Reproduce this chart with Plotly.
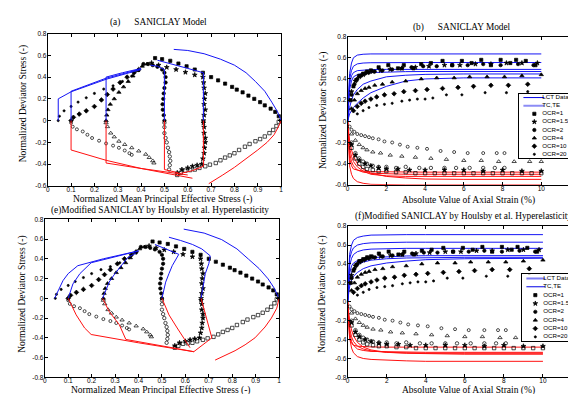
import plotly.graph_objects as go

W, H = 576, 394

# ---------------- Stress-path data (panels a and e): (p'/p0, q/p0) ----------------
PQ_TC_OCR1 = [(1.0, 0.0), (0.99, 0.04), (0.975, 0.08), (0.955, 0.11), (0.93, 0.14), (0.91, 0.17), (0.885, 0.2),
              (0.86, 0.23), (0.835, 0.26), (0.81, 0.285), (0.79, 0.31), (0.76, 0.34), (0.73, 0.37), (0.7, 0.4),
              (0.665, 0.44), (0.63, 0.47), (0.595, 0.5), (0.56, 0.525), (0.525, 0.55), (0.49, 0.565), (0.46, 0.575)]
PQ_TC_OCR15 = [(0.667, 0.0), (0.67, 0.05), (0.675, 0.1), (0.67, 0.15), (0.672, 0.2), (0.675, 0.25), (0.67, 0.3),
               (0.668, 0.35), (0.665, 0.4), (0.63, 0.42), (0.59, 0.445), (0.55, 0.47), (0.51, 0.49), (0.475, 0.51),
               (0.445, 0.53)]
PQ_TC_OCR2 = [(0.5, 0.0), (0.497, 0.05), (0.493, 0.1), (0.492, 0.15), (0.495, 0.2), (0.497, 0.25), (0.5, 0.3),
              (0.505, 0.35), (0.505, 0.4), (0.5, 0.44), (0.49, 0.47), (0.47, 0.495), (0.45, 0.51), (0.43, 0.52),
              (0.41, 0.52)]
PQ_TC_OCR4 = [(0.25, 0.0), (0.253, 0.05), (0.258, 0.1), (0.268, 0.15), (0.285, 0.2), (0.305, 0.26), (0.325, 0.31),
              (0.345, 0.36), (0.365, 0.41), (0.385, 0.46), (0.405, 0.5), (0.425, 0.52)]
PQ_TC_OCR10 = [(0.1, 0.0), (0.11, 0.03), (0.135, 0.06), (0.165, 0.09), (0.2, 0.13), (0.23, 0.19), (0.255, 0.24),
               (0.28, 0.29), (0.31, 0.35), (0.34, 0.4), (0.37, 0.44), (0.39, 0.47)]
PQ_TC_OCR20 = [(0.045, 0.0), (0.05, 0.04), (0.07, 0.09), (0.1, 0.13), (0.13, 0.17), (0.165, 0.21), (0.2, 0.25),
               (0.24, 0.29), (0.28, 0.32), (0.32, 0.36), (0.36, 0.41), (0.39, 0.46)]

PQ_TE_OCR1 = [(0.99, -0.01), (0.98, -0.05), (0.966, -0.086), (0.95, -0.115), (0.93, -0.146), (0.91, -0.17),
              (0.89, -0.19), (0.865, -0.215), (0.845, -0.24), (0.82, -0.27), (0.8, -0.3), (0.78, -0.32),
              (0.76, -0.34), (0.74, -0.365), (0.72, -0.39), (0.695, -0.405), (0.675, -0.42), (0.65, -0.435),
              (0.63, -0.45), (0.61, -0.455), (0.59, -0.46), (0.57, -0.48), (0.555, -0.5)]
PQ_TE_OCR15 = [(0.667, -0.02), (0.67, -0.06), (0.67, -0.115), (0.675, -0.16), (0.675, -0.2), (0.672, -0.25),
               (0.67, -0.3), (0.665, -0.35), (0.66, -0.4), (0.64, -0.41), (0.62, -0.42), (0.6, -0.435),
               (0.575, -0.45), (0.555, -0.48)]
PQ_TE_OCR2 = [(0.5, -0.02), (0.5, -0.06), (0.5, -0.115), (0.505, -0.16), (0.51, -0.2), (0.515, -0.25),
              (0.52, -0.29), (0.523, -0.33), (0.525, -0.37), (0.523, -0.41), (0.52, -0.45)]
PQ_TE_OCR4 = [(0.25, -0.02), (0.256, -0.056), (0.27, -0.115), (0.285, -0.15), (0.305, -0.19), (0.33, -0.22),
              (0.36, -0.25), (0.39, -0.28), (0.42, -0.31), (0.435, -0.34), (0.45, -0.37), (0.455, -0.39)]
PQ_TE_OCR10 = [(0.1, -0.02), (0.107, -0.056), (0.125, -0.08), (0.15, -0.1), (0.17, -0.13), (0.19, -0.16),
               (0.22, -0.185), (0.25, -0.21), (0.28, -0.23), (0.305, -0.25), (0.33, -0.275), (0.35, -0.3),
               (0.36, -0.315)]

# ---------------- Model stress paths ----------------
A_TC_MODEL = [
    [(0.045, 0.0), (0.045, 0.2), (0.1, 0.265), (0.25, 0.38), (0.4, 0.47)],
    [(0.1, 0.0), (0.1, 0.27), (0.25, 0.39), (0.4, 0.475)],
    [(0.25, 0.0), (0.25, 0.4), (0.32, 0.44), (0.4, 0.48)],
    [(0.5, 0.0), (0.5, 0.47), (0.47, 0.5), (0.44, 0.51)],
    [(0.667, 0.0), (0.667, 0.44), (0.6, 0.48), (0.53, 0.52), (0.47, 0.555)],
    [(0.54, 0.655), (0.6, 0.645), (0.67, 0.615), (0.74, 0.565), (0.8, 0.51), (0.85, 0.44), (0.89, 0.36),
     (0.93, 0.27), (0.96, 0.17), (0.985, 0.08), (1.0, 0.0)],
]
A_TE_MODEL = [
    [(0.1, 0.0), (0.1, -0.27), (0.25, -0.365), (0.4, -0.44), (0.62, -0.53)],
    [(0.25, 0.0), (0.25, -0.39), (0.4, -0.44), (0.6, -0.5)],
    [(0.5, 0.0), (0.5, -0.45), (0.56, -0.48)],
    [(0.667, 0.0), (0.667, -0.42), (0.62, -0.46), (0.56, -0.49)],
    [(1.0, 0.0), (0.99, -0.05), (0.97, -0.13), (0.94, -0.2), (0.9, -0.27), (0.85, -0.35), (0.8, -0.43),
     (0.75, -0.5), (0.69, -0.58)],
]
E_TC_MODEL = [
    [(0.042, 0.0), (0.06, 0.09), (0.078, 0.18), (0.1, 0.25), (0.141, 0.33), (0.25, 0.4), (0.4, 0.48)],
    [(0.1, 0.0), (0.11, 0.07), (0.12, 0.145), (0.15, 0.25), (0.198, 0.36), (0.3, 0.42), (0.4, 0.48)],
    [(0.247, 0.0), (0.26, 0.08), (0.275, 0.165), (0.295, 0.235), (0.318, 0.3), (0.353, 0.41), (0.39, 0.46)],
    [(0.5, 0.0), (0.507, 0.08), (0.516, 0.164), (0.53, 0.25), (0.544, 0.33), (0.572, 0.445), (0.52, 0.5),
     (0.47, 0.545)],
    [(0.667, 0.0), (0.675, 0.1), (0.685, 0.25), (0.7, 0.35), (0.706, 0.43), (0.67, 0.5), (0.63, 0.545),
     (0.58, 0.585), (0.53, 0.618)],
    [(0.593, 0.7), (0.68, 0.66), (0.755, 0.594), (0.82, 0.5), (0.87, 0.395), (0.915, 0.3), (0.953, 0.197),
     (0.98, 0.1), (0.996, 0.015)],
]
E_TE_MODEL = [
    [(0.1, 0.0), (0.134, -0.167), (0.17, -0.3), (0.198, -0.366), (0.4, -0.45), (0.636, -0.54)],
    [(0.247, 0.0), (0.275, -0.134), (0.318, -0.267), (0.346, -0.416), (0.544, -0.5), (0.636, -0.54)],
    [(0.5, 0.0), (0.53, -0.167), (0.565, -0.3), (0.6, -0.42), (0.62, -0.5)],
    [(0.667, 0.0), (0.69, -0.2), (0.713, -0.4), (0.636, -0.54)],
    [(1.0, 0.0), (0.99, -0.1), (0.967, -0.2), (0.94, -0.29), (0.897, -0.4), (0.855, -0.47), (0.812, -0.53),
     (0.77, -0.58), (0.727, -0.625)],
]

# ---------------- Strain data (panels b and f) ----------------
S_TC_OCR1 = [0.15, 0.3, 0.45, 0.6, 0.8, 1.0, 1.2, 1.6, 2.1, 2.6, 2.9, 3.4, 3.8, 4.3, 4.9, 5.4, 5.9, 6.4, 6.9, 7.4, 7.9, 8.4, 8.7, 9.2, 9.7]
Q_TC_OCR1 = [0.2, 0.33, 0.39, 0.43, 0.45, 0.47, 0.48, 0.51, 0.53, 0.5, 0.53, 0.5, 0.54, 0.55, 0.57, 0.53, 0.57, 0.55, 0.58, 0.53, 0.58, 0.55, 0.58, 0.57, 0.53]
S_TC_OCR15 = [0.2, 0.4, 0.6, 0.8, 1.0, 1.3, 1.7, 2.2, 2.8, 3.5, 4.2, 5.0, 5.8, 6.6, 7.4, 8.2, 9.0, 9.8]
Q_TC_OCR15 = [0.28, 0.38, 0.42, 0.44, 0.46, 0.47, 0.48, 0.49, 0.5, 0.51, 0.52, 0.53, 0.53, 0.54, 0.54, 0.55, 0.55, 0.55]
S_TC_OCR2 = [0.2, 0.35, 0.5, 0.7, 0.9, 1.1, 1.4, 1.8, 2.3, 2.8, 3.3, 3.9, 4.6, 5.4, 6.2, 7.0, 7.9, 8.8, 9.6]
Q_TC_OCR2 = [0.25, 0.35, 0.4, 0.43, 0.45, 0.46, 0.47, 0.48, 0.49, 0.5, 0.51, 0.52, 0.52, 0.53, 0.53, 0.54, 0.53, 0.54, 0.53]
S_TC_OCR4 = [0.2, 0.35, 0.5, 0.7, 0.9, 1.1, 1.4, 1.8, 2.3, 3.0, 3.8, 4.6, 5.5, 6.3, 7.2, 8.1, 9.0, 10.0]
Q_TC_OCR4 = [0.12, 0.2, 0.26, 0.29, 0.31, 0.32, 0.34, 0.35, 0.37, 0.38, 0.4, 0.41, 0.41, 0.42, 0.42, 0.42, 0.43, 0.44]
S_TC_OCR10 = [0.3, 0.5, 0.7, 0.9, 1.2, 1.5, 1.9, 2.4, 2.9, 3.5, 4.1, 4.9, 5.7, 6.5, 7.4, 8.3, 9.3]
Q_TC_OCR10 = [0.1, 0.14, 0.17, 0.19, 0.21, 0.23, 0.25, 0.26, 0.28, 0.29, 0.3, 0.31, 0.32, 0.33, 0.34, 0.34, 0.35]
S_TC_OCR20 = [0.5, 0.8, 1.1, 1.5, 1.9, 2.3, 2.8, 3.2, 3.6, 4.0, 4.4, 5.1, 5.9, 7.1, 8.2, 9.3]
Q_TC_OCR20 = [0.07, 0.1, 0.13, 0.15, 0.16, 0.17, 0.19, 0.2, 0.21, 0.21, 0.22, 0.25, 0.25, 0.27, 0.27, 0.28]

S_TE_OCR1 = [0.2, 0.4, 0.6, 0.8, 1.0, 1.3, 1.6, 2.0, 2.5, 3.0, 3.5, 4.0, 4.5, 5.0, 5.5, 6.0, 6.5, 7.0, 7.5, 8.0, 8.5, 9.0, 9.5, 10.0]
Q_TE_OCR1 = [-0.25, -0.35, -0.4, -0.43, -0.45, -0.46, -0.47, -0.47, -0.48, -0.48, -0.49, -0.49, -0.49, -0.49, -0.49, -0.49, -0.49, -0.49, -0.49, -0.49, -0.49, -0.49, -0.49, -0.49]
S_TE_OCR15 = [0.2, 0.4, 0.6, 0.9, 1.2, 1.6, 2.0, 2.6, 3.2, 4.0, 5.0, 6.0, 7.0, 8.0, 9.0, 10.0]
Q_TE_OCR15 = [-0.22, -0.32, -0.37, -0.4, -0.42, -0.44, -0.45, -0.45, -0.46, -0.46, -0.46, -0.46, -0.47, -0.46, -0.47, -0.47]
S_TE_OCR2 = [0.2, 0.4, 0.6, 0.8, 1.0, 1.3, 1.6, 2.0, 2.5, 3.0, 3.7, 4.3, 5.0, 5.6, 6.3, 7.0, 7.6, 8.1]
Q_TE_OCR2 = [-0.2, -0.3, -0.35, -0.38, -0.4, -0.42, -0.43, -0.43, -0.44, -0.43, -0.44, -0.44, -0.44, -0.44, -0.44, -0.44, -0.44, -0.44]
S_TE_OCR4 = [0.2, 0.4, 0.6, 0.8, 1.0, 1.3, 1.7, 2.2, 2.8, 3.5, 4.3, 5.1, 6.0, 6.9, 7.8, 8.6, 9.4, 10.0]
Q_TE_OCR4 = [-0.12, -0.18, -0.22, -0.25, -0.27, -0.29, -0.3, -0.32, -0.33, -0.34, -0.35, -0.36, -0.37, -0.37, -0.38, -0.38, -0.38, -0.38]
S_TE_OCR10 = [0.1, 0.2, 0.35, 0.5, 0.7, 0.9, 1.1, 1.3, 1.6, 1.9, 2.3, 2.7, 3.1, 3.6, 4.1, 4.8, 5.5, 6.2, 7.0, 7.7, 8.1]
Q_TE_OCR10 = [-0.05, -0.08, -0.1, -0.12, -0.13, -0.14, -0.15, -0.16, -0.17, -0.19, -0.2, -0.22, -0.24, -0.25, -0.26, -0.28, -0.29, -0.3, -0.3, -0.3, -0.3]

# ---------------- Model stress-strain curves ----------------
S_MODEL = [0, 0.05, 0.1, 0.2, 0.3, 0.5, 0.8, 1.2, 2, 3, 4, 6, 10]
B_TC_MODEL = [
    [0, 0.3, 0.45, 0.55, 0.6, 0.625, 0.633, 0.636, 0.636, 0.636, 0.636, 0.636, 0.636],
    [0, 0.28, 0.4, 0.48, 0.52, 0.542, 0.55, 0.553, 0.555, 0.555, 0.555, 0.555, 0.555],
    [0, 0.25, 0.35, 0.43, 0.46, 0.478, 0.485, 0.488, 0.49, 0.49, 0.49, 0.49, 0.49],
    [0, 0.2, 0.3, 0.38, 0.42, 0.44, 0.452, 0.46, 0.466, 0.469, 0.47, 0.47, 0.47],
    [0, 0.08, 0.13, 0.2, 0.25, 0.3, 0.35, 0.38, 0.42, 0.435, 0.443, 0.447, 0.447],
    [0, 0.04, 0.07, 0.1, 0.13, 0.17, 0.22, 0.27, 0.33, 0.38, 0.4, 0.41, 0.41],
]
B_TE_MODEL = [
    [0, -0.25, -0.35, -0.42, -0.45, -0.46, -0.47, -0.475, -0.478, -0.48, -0.48, -0.48, -0.48],
    [0, -0.2, -0.3, -0.38, -0.42, -0.46, -0.48, -0.49, -0.495, -0.5, -0.5, -0.5, -0.5],
    [0, -0.15, -0.25, -0.33, -0.38, -0.43, -0.47, -0.5, -0.515, -0.52, -0.52, -0.52, -0.52],
    [0, -0.1, -0.18, -0.27, -0.33, -0.4, -0.45, -0.49, -0.52, -0.535, -0.545, -0.548, -0.548],
    [0, -0.3, -0.42, -0.5, -0.54, -0.57, -0.585, -0.595, -0.6, -0.6, -0.6, -0.6, -0.6],
]
F_TC_MODEL = [
    [0, 0.35, 0.5, 0.6, 0.65, 0.68, 0.695, 0.705, 0.71, 0.71, 0.71, 0.71, 0.71],
    [0, 0.3, 0.45, 0.53, 0.57, 0.6, 0.615, 0.623, 0.628, 0.63, 0.63, 0.63, 0.63],
    [0, 0.25, 0.38, 0.46, 0.5, 0.53, 0.548, 0.557, 0.563, 0.565, 0.565, 0.565, 0.565],
    [0, 0.2, 0.3, 0.38, 0.41, 0.435, 0.455, 0.467, 0.478, 0.484, 0.487, 0.488, 0.488],
    [0, 0.15, 0.24, 0.31, 0.35, 0.39, 0.42, 0.44, 0.455, 0.463, 0.468, 0.47, 0.47],
    [0, 0.1, 0.16, 0.23, 0.27, 0.31, 0.35, 0.38, 0.41, 0.43, 0.445, 0.455, 0.46],
]
F_TE_MODEL = [
    [0, -0.28, -0.38, -0.44, -0.46, -0.47, -0.475, -0.478, -0.48, -0.48, -0.48, -0.48, -0.48],
    [0, -0.22, -0.32, -0.42, -0.46, -0.5, -0.515, -0.525, -0.53, -0.535, -0.535, -0.535, -0.535],
    [0, -0.18, -0.28, -0.37, -0.42, -0.47, -0.5, -0.52, -0.535, -0.54, -0.545, -0.545, -0.545],
    [0, -0.12, -0.2, -0.3, -0.36, -0.43, -0.48, -0.51, -0.535, -0.545, -0.55, -0.555, -0.555],
    [0, -0.25, -0.38, -0.49, -0.54, -0.58, -0.6, -0.61, -0.62, -0.625, -0.63, -0.63, -0.63],
]

# ---------------- Ticks & text ----------------
X_TICKS_P = [0, 0.1, 0.2, 0.3, 0.4, 0.5, 0.6, 0.7, 0.8, 0.9, 1]
X_TICKS_S = [0, 2, 4, 6, 8, 10, 12]
Y_TICKS_TOP = [-0.6, -0.4, -0.2, 0, 0.2, 0.4, 0.6, 0.8]
Y_TICKS_BOT = [-0.8, -0.6, -0.4, -0.2, 0, 0.2, 0.4, 0.6, 0.8]
LEGEND_LABELS = ["LCT Data", "TC,TE", "OCR=1", "OCR=1.5", "OCR=2", "OCR=4", "OCR=10", "OCR=20"]
NB = "\u00a0"
TITLES = ["(a)" + NB * 6 + "SANICLAY Model", "(b)" + NB * 6 + "SANICLAY Model",
          "(e)Modified SANICLAY by Houlsby et al. Hyperelasticity",
          "(f)Modified SANICLAY by Houlsby et al. Hyperelasticity"]
XLAB_P = "Normalized Mean Principal Effective Stress (-)"
XLAB_S = "Absolute Value of Axial Strain (%)"
YLAB = "Normalized Deviator Stress (-)"

BLUE = "#1515f5"
RED = "#ff1010"
SERIF = "Liberation Serif"
SANS = "Liberation Sans"

# marker styles: (symbol, size)
TC_STYLE = {"1": ("square", 3.2), "1.5": ("star", 3.6), "2": ("circle", 3.4),
            "4": ("triangle-up", 3.8), "10": ("diamond", 3.6), "20": ("circle", 2.2)}
TE_STYLE = {"1": ("square-open", 3.4), "1.5": ("star", 3.6), "2": ("circle-open", 3.4),
            "4": ("triangle-up-open", 3.8), "10": ("circle-open", 3.0)}

fig = go.Figure()


def line_trace(xs, ys, xa, ya, color, width=1.0):
    fig.add_trace(go.Scatter(x=xs, y=ys, xaxis=xa, yaxis=ya, mode="lines",
                             line=dict(color=color, width=width), hoverinfo="skip"))


def marker_trace(xs, ys, xa, ya, style):
    sym, size = style
    fig.add_trace(go.Scatter(x=xs, y=ys, xaxis=xa, yaxis=ya, mode="markers",
                             marker=dict(symbol=sym, size=size, color="black",
                                         line=dict(color="black", width=0.7)),
                             hoverinfo="skip"))


PQ_TC = {"1": PQ_TC_OCR1, "1.5": PQ_TC_OCR15, "2": PQ_TC_OCR2, "4": PQ_TC_OCR4, "10": PQ_TC_OCR10, "20": PQ_TC_OCR20}
PQ_TE = {"1": PQ_TE_OCR1, "1.5": PQ_TE_OCR15, "2": PQ_TE_OCR2, "4": PQ_TE_OCR4, "10": PQ_TE_OCR10}
ST_TC = {"1": (S_TC_OCR1, Q_TC_OCR1), "1.5": (S_TC_OCR15, Q_TC_OCR15), "2": (S_TC_OCR2, Q_TC_OCR2),
         "4": (S_TC_OCR4, Q_TC_OCR4), "10": (S_TC_OCR10, Q_TC_OCR10), "20": (S_TC_OCR20, Q_TC_OCR20)}
ST_TE = {"1": (S_TE_OCR1, Q_TE_OCR1), "1.5": (S_TE_OCR15, Q_TE_OCR15), "2": (S_TE_OCR2, Q_TE_OCR2),
         "4": (S_TE_OCR4, Q_TE_OCR4), "10": (S_TE_OCR10, Q_TE_OCR10)}

# ---- stress path panels (a: x/y, e: x3/y3)
for xa, ya, tcm, tem in (("x", "y", A_TC_MODEL, A_TE_MODEL), ("x3", "y3", E_TC_MODEL, E_TE_MODEL)):
    for k, pts in PQ_TC.items():
        marker_trace([p for p, q in pts], [q for p, q in pts], xa, ya, TC_STYLE[k])
    for k, pts in PQ_TE.items():
        marker_trace([p for p, q in pts], [q for p, q in pts], xa, ya, TE_STYLE[k])
    for curve in tcm:
        line_trace([p for p, q in curve], [q for p, q in curve], xa, ya, BLUE)
    for curve in tem:
        line_trace([p for p, q in curve], [q for p, q in curve], xa, ya, RED)

# ---- stress-strain panels (b: x2/y2, f: x4/y4)
for xa, ya, tcm, tem in (("x2", "y2", B_TC_MODEL, B_TE_MODEL), ("x4", "y4", F_TC_MODEL, F_TE_MODEL)):
    for curve in tcm:
        line_trace(S_MODEL, curve, xa, ya, BLUE)
    for curve in tem:
        line_trace(S_MODEL, curve, xa, ya, RED)
    for k, (s, q) in ST_TC.items():
        marker_trace(s, q, xa, ya, TC_STYLE[k])
    for k, (s, q) in ST_TE.items():
        marker_trace(s, q, xa, ya, TE_STYLE[k])

# ---- legend boxes drawn as small subplots (x5/y5 for b, x6/y6 for f)
LEG_LINE_STYLES = {
    "x5": [("#0000e6", 1.0), ("#8c8cf5", 2.0)],
    "x6": [("#7d7df5", 2.0), ("#0000e6", 1.0)],
}
LEG_GEOM = {"x5": (4, 25, 15, 23), "x6": (4, 23, 13, 21)}
for xa, ya in (("x5", "y5"), ("x6", "y6")):
    x0, x1, xm, xt = LEG_GEOM[xa]
    for lab, (col, wid) in zip(LEGEND_LABELS[:2], LEG_LINE_STYLES[xa]):
        line_trace([x0, x1], [lab, lab], xa, ya, col, wid)
    for lab, k in zip(LEGEND_LABELS[2:], ["1", "1.5", "2", "4", "10", "20"]):
        marker_trace([xm], [lab], xa, ya, TC_STYLE[k])
    fig.add_trace(go.Scatter(x=[xt] * len(LEGEND_LABELS), y=LEGEND_LABELS, xaxis=xa, yaxis=ya,
                             mode="text", text=LEGEND_LABELS, textposition="middle right",
                             textfont=dict(family=SANS, size=6.2, color="black"),
                             cliponaxis=False, hoverinfo="skip"))


def fmt(v):
    return f"{round(v, 2):g}"


def axis(dom_px, rng, ticks, anchor, vertical=False):
    if vertical:
        dom = [1 - dom_px[1] / H, 1 - dom_px[0] / H]
    else:
        dom = [dom_px[0] / W, min(1.0, dom_px[1] / W)]
    d = dict(domain=dom, range=rng, tickvals=ticks, ticktext=[fmt(v) for v in ticks],
             ticks="inside", ticklen=3, tickwidth=1, tickcolor="black",
             showline=True, linecolor="black", linewidth=1, mirror="ticks",
             showgrid=False, zeroline=False, anchor=anchor,
             tickfont=dict(family=SANS, size=6.5, color="black"))
    d["ticklabelstandoff"] = -3 if not vertical else -1
    return d


def leg_axis(dom_px, rng, anchor, vertical=False, cats=None):
    if vertical:
        dom = [1 - dom_px[1] / H, 1 - dom_px[0] / H]
    else:
        dom = [dom_px[0] / W, min(1.0, dom_px[1] / W)]
    d = dict(domain=dom, range=rng, showline=True, linecolor="black", linewidth=1, mirror=True,
             showticklabels=False, ticks="", showgrid=False, zeroline=False, anchor=anchor)
    if cats:
        d.update(type="category", categoryorder="array", categoryarray=cats)
    return d


fig.update_layout(
    width=W, height=H, margin=dict(l=0, r=0, t=0, b=0),
    paper_bgcolor="white", plot_bgcolor="white", showlegend=False, hovermode=False,
    xaxis=axis((38, 273), [0, 1], X_TICKS_P, "y"),
    yaxis=axis((22, 177), [-0.6, 0.8], Y_TICKS_TOP, "x", vertical=True),
    xaxis2=axis((340, 574), [0, 12], X_TICKS_S, "y2"),
    yaxis2=axis((25, 176), [-0.6, 0.8], Y_TICKS_TOP, "x2", vertical=True),
    xaxis3=axis((35, 271), [0, 1], X_TICKS_P, "y3"),
    yaxis3=axis((211, 372), [-0.8, 0.8], Y_TICKS_BOT, "x3", vertical=True),
    xaxis4=axis((340, 576.4), [0, 12], X_TICKS_S, "y4"),
    yaxis4=axis((218, 372), [-0.8, 0.8], Y_TICKS_BOT, "x4", vertical=True),
    xaxis5=leg_axis((513, 574), [0, 61], "y5"),
    yaxis5=leg_axis((83, 149), [7.5, -0.5], "x5", vertical=True, cats=LEGEND_LABELS),
    xaxis6=leg_axis((516, 576), [0, 60], "y6"),
    yaxis6=leg_axis((267, 335), [7.5, -0.5], "x6", vertical=True, cats=LEGEND_LABELS),
)

# titles and axis labels as annotations at measured pixel positions
TEXT_POS = [
    (TITLES[0], 150, 11, 0), (TITLES[1], 455, 16, 0), (TITLES[2], 151, 202, 0), (TITLES[3], 457, 208, 0),
    (XLAB_P, 154, 190.5, 0), (XLAB_S, 462, 191.5, 0), (XLAB_P, 152, 385, 0), (XLAB_S, 462, 385, 0),
    (YLAB, 13, 93, -90), (YLAB, 315, 100, -90), (YLAB, 13, 287, -90), (YLAB, 315, 287, -90),
]
for txt, px, py, ang in TEXT_POS:
    size = 9.3 if txt in TITLES else 9.5
    fig.add_annotation(text=txt, x=px / W, y=1 - py / H, xref="paper", yref="paper",
                       xanchor="center", yanchor="middle", showarrow=False, textangle=ang,
                       font=dict(family=SERIF, size=size, color="black"))

fig.write_html("out.html")
